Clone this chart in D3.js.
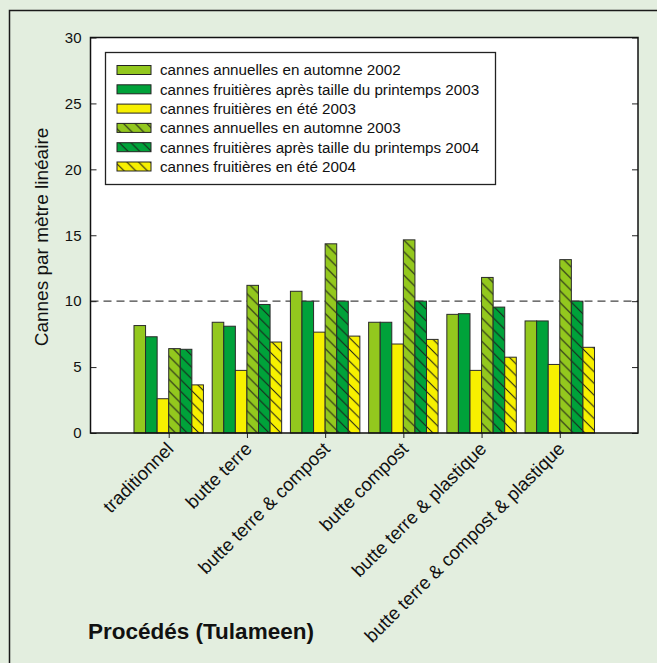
<!DOCTYPE html>
<html><head><meta charset="utf-8">
<script src="https://cdn.jsdelivr.net/npm/d3@7"></script>
<style>
html,body{margin:0;padding:0;background:#e3eedf;}
svg{display:block;font-family:"Liberation Sans",Arial,sans-serif;}
</style></head>
<body>
<svg id="chart" width="657" height="663"></svg>
<script>
const categories = ["traditionnel","butte terre","butte terre & compost","butte compost","butte terre & plastique","butte terre & compost & plastique"];
const seriesNames = ["cannes annuelles en automne 2002","cannes fruitières après taille du printemps 2003","cannes fruitières en été 2003","cannes annuelles en automne 2003","cannes fruitières après taille du printemps 2004","cannes fruitières en été 2004"];
const s2002Automne = [8.15, 8.4, 10.75, 8.4, 9.0, 8.5];
const s2003Printemps = [7.3, 8.1, 10.0, 8.4, 9.05, 8.5];
const s2003Ete = [2.6, 4.75, 7.65, 6.75, 4.75, 5.2];
const s2003Automne = [6.4, 11.2, 14.35, 14.65, 11.8, 13.15];
const s2004Printemps = [6.35, 9.75, 10.0, 10.0, 9.55, 10.0];
const s2004Ete = [3.65, 6.9, 7.35, 7.1, 5.75, 6.5];
const series = [s2002Automne, s2003Printemps, s2003Ete, s2003Automne, s2004Printemps, s2004Ete];
const yTicks = [0,5,10,15,20,25,30];
const refLine = 10;

const colors = ["#93c81e","#00a23a","#f7f000","#93c81e","#00a23a","#f7f000"];
const hatched = [false,false,false,true,true,true];

const svg = d3.select("#chart");
const defs = svg.append("defs");
colors.forEach((c,i)=>{
  if(!hatched[i]) return;
  const p = defs.append("pattern").attr("id","hatch"+i).attr("patternUnits","userSpaceOnUse")
    .attr("width",11.7).attr("height",11.7);
  p.append("rect").attr("width",11.7).attr("height",11.7).attr("fill",c);
  p.append("path").attr("d","M-1,-1 L12.7,12.7 M-1,10.7 L1,12.7 M10.7,-1 L12.7,1").attr("stroke","#1a1a1a").attr("stroke-width",1);
});
const fillOf = i => hatched[i] ? `url(#hatch${i})` : colors[i];

// outer frame
svg.append("rect").attr("x",9.5).attr("y",10.5).attr("width",700).attr("height",700)
  .attr("fill","#e3eedf").attr("stroke","#1a1a1a").attr("stroke-width",1.5);

const L=90.5, R=638, T=37.5, B=433;
const y = d3.scaleLinear().domain([0,30]).range([B,T]);
const x = d3.scaleLinear().domain([0,7]).range([L,R]);
const step = x(1)-x(0);
const barW = step*0.148;

svg.append("rect").attr("x",L).attr("y",T).attr("width",R-L).attr("height",B-T).attr("fill","#fff");

// dashed reference
svg.append("line").attr("x1",L).attr("x2",R).attr("y1",y(refLine)).attr("y2",y(refLine))
  .attr("stroke","#444").attr("stroke-width",1.3).attr("stroke-dasharray","8,5");

// bars
series.forEach((vals,si)=>{
  svg.append("g").selectAll("rect").data(vals).join("rect")
    .attr("x",(d,ci)=>x(ci+1)+(si-3)*barW)
    .attr("y",d=>y(d))
    .attr("width",barW)
    .attr("height",d=>y(0)-y(d))
    .attr("fill",fillOf(si))
    .attr("stroke","#2a2a2a").attr("stroke-width",1);
});

// axes
const yAxisL = d3.axisLeft(y).tickValues(yTicks).tickSize(-6).tickPadding(9);
const gyl = svg.append("g").attr("transform",`translate(${L},0)`).call(yAxisL);
gyl.selectAll("text").attr("font-size",15).attr("fill","#111").attr("font-family","Liberation Sans, Arial, sans-serif");
const yAxisR = d3.axisRight(y).tickValues(yTicks).tickSize(-6).tickFormat("");
svg.append("g").attr("transform",`translate(${R},0)`).call(yAxisR);
const xAxis = d3.axisBottom(x).tickValues(d3.range(1,7)).tickSize(5).tickFormat("");
const gx = svg.append("g").attr("transform",`translate(0,${B})`).call(xAxis);
svg.selectAll(".domain").remove();
svg.selectAll(".tick line").attr("stroke","#222");

// frame
svg.append("rect").attr("x",L).attr("y",T).attr("width",R-L).attr("height",B-T)
  .attr("fill","none").attr("stroke","#111").attr("stroke-width",1.5);

// x labels
svg.append("g").selectAll("text").data(categories).join("text")
  .attr("transform",(d,i)=>`translate(${x(i+1)+6},${B+17}) rotate(-45)`)
  .attr("text-anchor","end").attr("font-size",18.5).attr("fill","#111")
  .text(d=>d);

// y title
svg.append("text").attr("transform",`translate(48,237) rotate(-90)`)
  .attr("text-anchor","middle").attr("font-size",19).attr("fill","#111")
  .text("Cannes par mètre linéaire");

// x title
svg.append("text").attr("x",88).attr("y",639).attr("font-size",22.5).attr("font-weight","bold")
  .attr("fill","#111").text("Procédés (Tulameen)");

// legend
const lg = svg.append("g");
lg.append("rect").attr("x",105.5).attr("y",52.5).attr("width",390).attr("height",132)
  .attr("fill","#fff").attr("stroke","#222").attr("stroke-width",1.3);
seriesNames.forEach((n,i)=>{
  const cy = 70 + i*19.3;
  lg.append("rect").attr("x",117).attr("y",cy-4.5).attr("width",34).attr("height",9)
    .attr("fill",fillOf(i)).attr("stroke","#222").attr("stroke-width",1);
  lg.append("text").attr("x",160).attr("y",cy).attr("dy","0.35em").attr("font-size",15.2)
    .attr("fill","#111").text(n);
});
</script>
</body></html>
